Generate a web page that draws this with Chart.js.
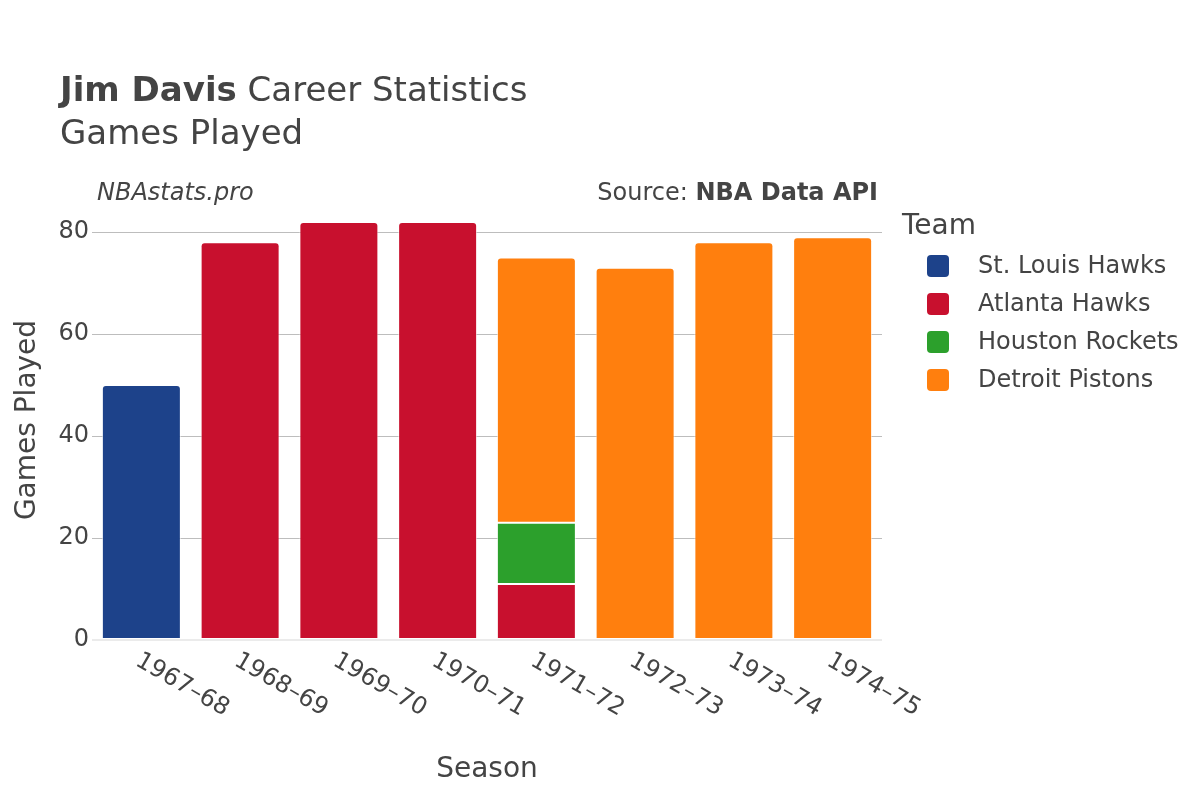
<!DOCTYPE html>
<html>
<head>
<meta charset="utf-8">
<script src="https://cdn.jsdelivr.net/npm/chart.js@4"></script>
<style>
  html, body { margin: 0; padding: 0; background: #fff; }
  #wrap { width: 1200px; height: 800px; }
</style>
</head>
<body>
<div id="wrap"><canvas id="chart" width="1200" height="800"></canvas></div>
<script>
// chart data
const seasons = ['1967–68', '1968–69', '1969–70', '1970–71', '1971–72', '1972–73', '1973–74', '1974–75'];
const teams = ['St. Louis Hawks', 'Atlanta Hawks', 'Houston Rockets', 'Detroit Pistons'];
const teamColors = ['#1d428a', '#c8102e', '#2ca02c', '#ff7f0e'];
const stLouisGames = [50, null, null, null, null, null, null, null];
const atlantaGames = [null, 78, 82, 82, 11, null, null, null];
const houstonGames = [null, null, null, null, 12, null, null, null];
const detroitGames = [null, null, null, null, 52, 73, 78, 79];
const yTicks = [0, 20, 40, 60, 80];

const FONT = '"DejaVu Sans", sans-serif';
const TEXT = '#444';
const series = [stLouisGames, atlantaGames, houstonGames, detroitGames];

// round only the top segment of each stack
function topRadius(ctx) {
  const i = ctx.dataIndex;
  let top = -1;
  series.forEach((s, d) => { if (s[i] != null) top = d; });
  return ctx.datasetIndex === top ? { topLeft: 4, topRight: 4 } : 0;
}

const datasets = teams.map((name, d) => ({
  label: name,
  data: series[d],
  backgroundColor: teamColors[d],
  borderColor: 'rgba(255,255,255,0.6)',
  borderWidth: 1,
  borderSkipped: false,
  borderRadius: topRadius,
  barPercentage: 0.8,
  categoryPercentage: 1.0
}));

const decorations = {
  id: 'decorations',
  afterDraw(chart) {
    const c = chart.ctx;
    const area = chart.chartArea;
    const xs = chart.scales.x;
    c.save();
    c.fillStyle = TEXT;
    c.textBaseline = 'alphabetic';
    c.textAlign = 'left';

    // title
    c.font = 'bold 34px ' + FONT;
    c.fillText('Jim Davis', 60, 101);
    const w = c.measureText('Jim Davis').width;
    c.font = '34px ' + FONT;
    c.fillText(' Career Statistics', 60 + w, 101);
    c.fillText('Games Played', 60, 144);

    // site / source
    c.font = 'italic 24px ' + FONT;
    c.fillText('NBAstats.pro', 97, 200);
    c.textAlign = 'right';
    c.font = 'bold 24px ' + FONT;
    c.fillText('NBA Data API', 878, 200);
    const sw = c.measureText('NBA Data API').width;
    c.font = '24px ' + FONT;
    c.fillText('Source: ', 878 - sw, 200);

    // x tick labels, slanted down to the right
    c.font = '24px ' + FONT;
    c.textAlign = 'left';
    c.textBaseline = 'middle';
    seasons.forEach((s, i) => {
      const x = xs.getPixelForTick(i);
      c.save();
      c.translate(x - 4, area.bottom + 19);
      c.rotate(Math.PI / 6);
      c.fillText(s, 0, 0);
      c.restore();
    });

    // axis titles
    c.font = '28px ' + FONT;
    c.textAlign = 'center';
    c.fillText('Season', (area.left + area.right) / 2, 770);
    c.save();
    c.translate(28, (area.top + area.bottom) / 2);
    c.rotate(-Math.PI / 2);
    c.fillText('Games Played', 0, 0);
    c.restore();

    // legend
    c.textAlign = 'left';
    c.font = '28px ' + FONT;
    c.fillText('Team', 902, 227);
    c.font = '24px ' + FONT;
    chart.data.datasets.forEach((ds, d) => {
      const y = 266 + d * 38;
      c.fillStyle = ds.backgroundColor;
      c.beginPath();
      c.roundRect(927, y - 11, 22, 22, 4);
      c.fill();
      c.fillStyle = TEXT;
      c.fillText(ds.label, 978, y + 1);
    });
    c.restore();
  }
};

new Chart(document.getElementById('chart'), {
  type: 'bar',
  data: { labels: seasons, datasets: datasets },
  options: {
    responsive: false,
    animation: false,
    layout: { padding: { top: 200, right: 318, bottom: 160, left: 0 } },
    plugins: { legend: { display: false }, tooltip: { enabled: false } },
    scales: {
      x: {
        stacked: true,
        grid: { display: false },
        border: { display: false },
        ticks: { display: false },
        afterFit: (s) => { s.height = 0; }
      },
      y: {
        stacked: true,
        min: 0,
        max: 86.3,
        afterBuildTicks: (s) => { s.ticks = yTicks.map(v => ({ value: v })); },
        afterFit: (s) => { s.width = 92; },
        border: { display: false },
        grid: {
          drawTicks: false,
          color: (ctx) => ctx.tick && ctx.tick.value === 0 ? '#ebebeb' : '#bdbdbd',
          lineWidth: (ctx) => ctx.tick && ctx.tick.value === 0 ? 2 : 1
        },
        ticks: { color: TEXT, padding: 3, font: { family: FONT, size: 24 } }
      }
    }
  },
  plugins: [decorations]
});
</script>
</body>
</html>
